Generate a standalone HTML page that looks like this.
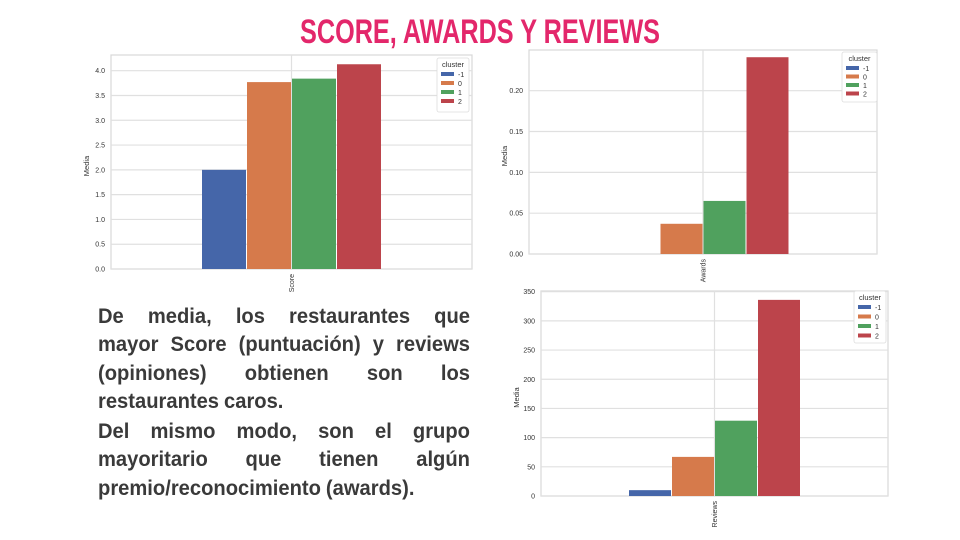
<!DOCTYPE html>
<html><head><meta charset="utf-8"><style>
html,body{margin:0;padding:0;background:#fff;}
svg{display:block;}
</style></head><body>
<svg id="s" width="960" height="540" xmlns="http://www.w3.org/2000/svg">
<text x="480" y="43" text-anchor="middle" textLength="360" lengthAdjust="spacingAndGlyphs" font-family="'Liberation Sans',sans-serif" font-weight="bold" font-size="34" fill="#e3276b">SCORE, AWARDS Y REVIEWS</text>
<g id="para" font-family="'Liberation Sans',sans-serif" font-weight="bold" font-size="21" fill="#3a3a3a"></g>
</svg>
<script>
const clusters = ['-1','0','1','2'];
const colors = ['#4566a9','#d67a4b','#50a15e','#bc444b'];
const scoreValues = [2.0, 3.77, 3.84, 4.13];
const scoreTicks = ['0.0','0.5','1.0','1.5','2.0','2.5','3.0','3.5','4.0'];
const awardsValues = [0.0, 0.037, 0.065, 0.241];
const awardsTicks = ['0.00','0.05','0.10','0.15','0.20'];
const reviewsValues = [10, 67, 129, 336];
const reviewsTicks = ['0','50','100','150','200','250','300','350'];

const NS='http://www.w3.org/2000/svg';
const svg=document.getElementById('s');
function el(tag,attrs,parent){const e=document.createElementNS(NS,tag);for(const k in attrs)e.setAttribute(k,attrs[k]);(parent||svg).appendChild(e);return e;}

const para=document.getElementById('para');
const lines=[
 ['De media, los restaurantes que',323,true],
 ['mayor Score (puntuación) y reviews',351,true],
 ['(opiniones) obtienen son los',380,true],
 ['restaurantes caros.',408,false],
 ['Del mismo modo, son el grupo',438,true],
 ['mayoritario que tienen algún',466,true],
 ['premio/reconocimiento (awards).',495,false]
];
const K=0.96, LEFT=98, RIGHT=470, SP=5;
lines.forEach((ln,li)=>{
  const lg=el('g',{},para);
  
  
  const words=ln[0].split(' ');
  const ws=words.map(w=>{const t=el('text',{x:0,y:ln[1]},lg);t.textContent=w;return [t,t.getComputedTextLength()*K];});
  let total=ws.reduce((a,b)=>a+b[1],0);
  let gap=ln[2]?(RIGHT-LEFT-total)/(words.length-1):SP;
  if(ln[2] && gap<4){const s=(RIGHT-LEFT-4*(words.length-1))/total;ws.forEach(w=>w[1]*=s);gap=4;}
  let x=LEFT;
  ws.forEach(([t,w])=>{t.setAttribute('x',x);t.setAttribute('textLength',w);t.setAttribute('lengthAdjust','spacingAndGlyphs');x+=w+gap;});
});

function chart(cfg){
  const g=el('g',{});
  
  
  const y=v=>cfg.y0-(v-cfg.vmin)*(cfg.y0-cfg.yTop)/(cfg.vmax-cfg.vmin);
  const fr=el('rect',{x:cfg.left,y:cfg.top,width:cfg.right-cfg.left,height:cfg.y0-cfg.top,fill:'#fff',stroke:'#d8d8d8','stroke-width':1.2},g);
  
  
  cfg.ticks.forEach(t=>{
    const v=parseFloat(t), yy=y(v);
    const l=el('line',{x1:cfg.left,x2:cfg.right,y1:yy,y2:yy,stroke:'#e0e0e0','stroke-width':1.2},g);
    
    
    const tx=el('text',{x:cfg.left-6,y:yy+2.5,'text-anchor':'end','font-family':'Liberation Sans, sans-serif','font-size':7,fill:'#333'},g);
    tx.textContent=t;
    
    
  });
  const cx=(cfg.left+cfg.right)/2;
  const vg=el('line',{x1:cx,x2:cx,y1:cfg.top,y2:cfg.y0,stroke:'#e0e0e0','stroke-width':1.2},g);
  
  
  const bw=cfg.bw, start=cx-2*bw;
  cfg.values.forEach((v,i)=>{
    const top=y(v);
    const r=el('rect',{x:start+i*bw+0.5,y:top,width:bw-1,height:Math.max(0,cfg.y0-top),fill:colors[i]},g);
    
    
  });
  const yl=el('text',{x:0,y:0,transform:`translate(${cfg.left-22},${(cfg.top+cfg.y0)/2+4}) rotate(-90)`,'text-anchor':'middle','font-family':'Liberation Sans, sans-serif','font-size':7.5,fill:'#333'},g);
  yl.textContent='Media';
  
  
  const xl=el('text',{x:0,y:0,transform:`translate(${cx+2.5},${cfg.y0+5}) rotate(-90)`,'text-anchor':'end','font-family':'Liberation Sans, sans-serif','font-size':7,fill:'#333'},g);
  xl.textContent=cfg.cat;
  
  
  const L=cfg.legend;
  const lg=el('g',{},g);
  
  
  el('rect',{x:L.x,y:L.y,width:L.w,height:L.h,fill:'#fff',stroke:'#ddd','stroke-width':0.8,rx:2},lg);
  const lt=el('text',{x:L.x+L.w/2,y:L.y+9,'text-anchor':'middle','font-family':'Liberation Sans, sans-serif','font-size':7.5,fill:'#333'},lg);
  lt.textContent='cluster';
  clusters.forEach((c,i)=>{
    const yy=L.y+17+i*L.step;
    const sw=el('rect',{x:L.x+4,y:yy-3,width:13,height:4,fill:colors[i]},lg);
    
    
    const t=el('text',{x:L.x+21,y:yy+2,'font-family':'Liberation Sans, sans-serif','font-size':7,fill:'#333'},lg);
    t.textContent=c;
    
    
  });
}

chart({name:'score-chart',cat:'Score',values:scoreValues,ticks:scoreTicks,vmin:0,vmax:4,left:111,right:472,top:55,y0:269,yTop:70.7,bw:45,legend:{x:437,y:58,w:32,h:54,step:9}});
chart({name:'awards-chart',cat:'Awards',values:awardsValues,ticks:awardsTicks,vmin:0,vmax:0.2,left:529,right:877,top:50,y0:254,yTop:90.7,bw:43,legend:{x:842,y:52,w:35,h:50,step:8.5}});
chart({name:'reviews-chart',cat:'Reviews',values:reviewsValues,ticks:reviewsTicks,vmin:0,vmax:350,left:541,right:888,top:291,y0:496,yTop:291.7,bw:43,legend:{x:854,y:291,w:32,h:52,step:9.5}});
</script>
</body></html>
